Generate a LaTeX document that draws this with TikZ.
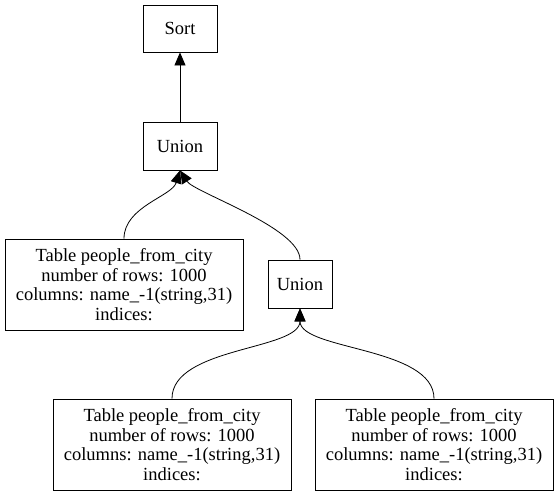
\documentclass[tikz,border=0pt]{standalone}
\usepackage{fontspec}
\setmainfont{Liberation Serif}
\usetikzlibrary{arrows.meta}
\begin{document}
\begin{tikzpicture}[x=1pt,y=-1pt,
  box/.style={draw,line width=0.8pt,inner sep=0pt,align=center,font=\rmfamily\fontsize{18.5}{19.5}\selectfont},
  edge/.style={line width=0.8pt,-{Triangle[length=13pt,width=11pt]}}]
\useasboundingbox (0,0) rectangle (559,496);
\node[box,minimum width=74pt,minimum height=47pt] (sort) at (180,28.5) {Sort};
\node[box,minimum width=74pt,minimum height=48pt] (u1) at (180,146) {Union};
\node[box,minimum width=238pt,minimum height=91pt] (t1) at (124,284.5) {Table people\_from\_city\\number of rows: 1000\\columns: name\_-1(string,31)\\indices:};
\node[box,minimum width=64pt,minimum height=48pt] (u2) at (300,284) {Union};
\node[box,minimum width=238pt,minimum height=91pt] (t2) at (172,444.5) {Table people\_from\_city\\number of rows: 1000\\columns: name\_-1(string,31)\\indices:};
\node[box,minimum width=238pt,minimum height=91pt] (t3) at (434,444.5) {Table people\_from\_city\\number of rows: 1000\\columns: name\_-1(string,31)\\indices:};
\draw[edge] (u1.north) -- (sort.south);
\draw[edge] (t1.north) .. controls +(0,-32) and +(-8,26) .. (u1.south);
\draw[edge] (u2.north) .. controls +(0,-32) and +(14,22) .. (u1.south);
\draw[edge] (t2.north) .. controls +(0,-52) and +(0,42) .. (u2.south);
\draw[edge] (t3.north) .. controls +(0,-52) and +(0,42) .. (u2.south);
\end{tikzpicture}
\end{document}
